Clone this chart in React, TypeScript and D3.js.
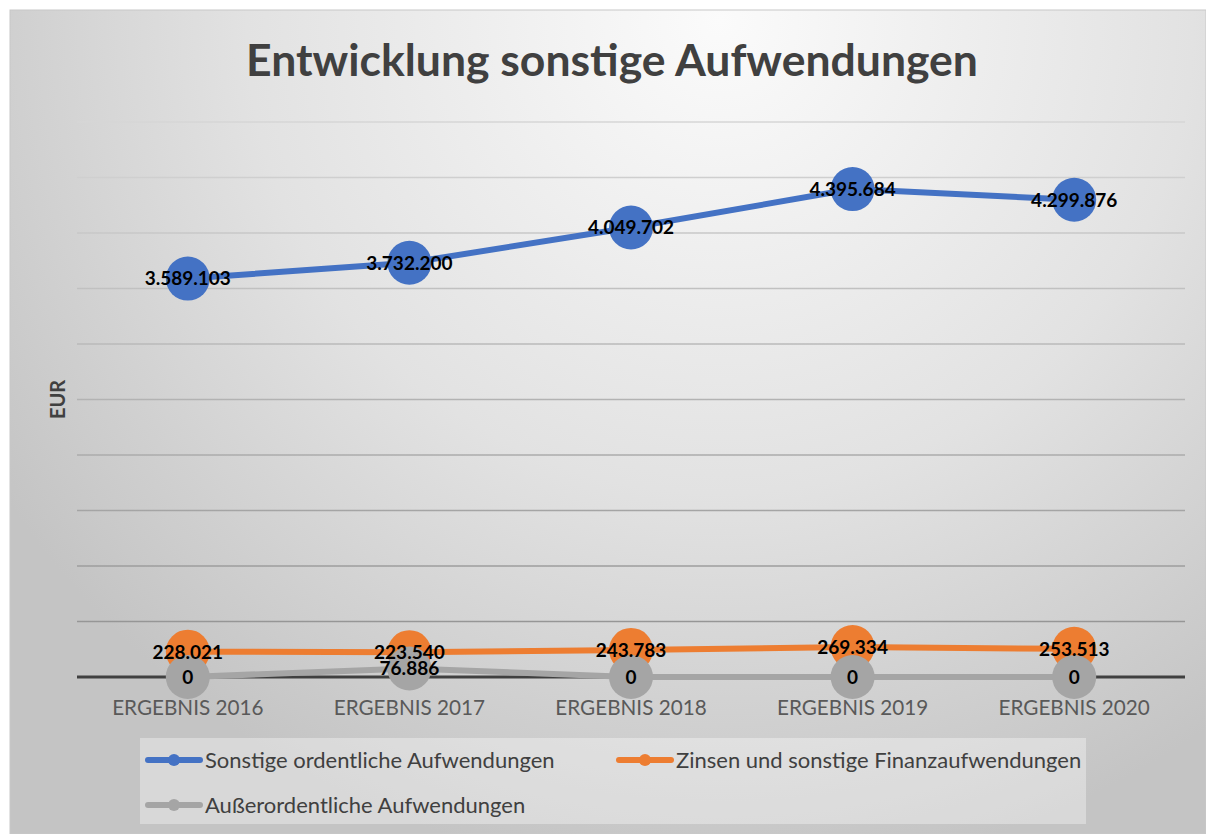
import { useEffect, useRef } from "react";
import * as d3 from "d3";

// Daten
const kategorien = ["ERGEBNIS 2016", "ERGEBNIS 2017", "ERGEBNIS 2018", "ERGEBNIS 2019", "ERGEBNIS 2020"];
const sonstigeOrdentliche = [3589103, 3732200, 4049702, 4395684, 4299876];
const zinsenFinanz = [228021, 223540, 243783, 269334, 253513];
const ausserordentliche = [0, 76886, 0, 0, 0];
const serienNamen = [
  "Sonstige ordentliche Aufwendungen",
  "Zinsen und sonstige Finanzaufwendungen",
  "Außerordentliche Aufwendungen",
];
const serienFarben = ["#4472C4", "#ED7D31", "#A5A5A5"];
const yMax = 5000000;

const W = 1206;
const H = 834;
const FONT = "Lato, 'Open Sans', sans-serif";

const App = () => {
  const svgRef = useRef<SVGSVGElement | null>(null);

  useEffect(() => {
    if (!svgRef.current) return;
    const svg = d3.select(svgRef.current);
    svg.selectAll("*").remove();

    const de = d3.formatLocale({ decimal: ",", thousands: ".", grouping: [3], currency: ["", " €"] });
    const fmt = de.format(",d");

    const defs = svg.append("defs");
    const bg = defs
      .append("radialGradient")
      .attr("id", "bg")
      .attr("gradientUnits", "userSpaceOnUse")
      .attr("cx", 720)
      .attr("cy", 20)
      .attr("r", 860);
    bg.append("stop").attr("offset", 0).attr("stop-color", "#fbfbfb");
    bg.append("stop").attr("offset", 0.55).attr("stop-color", "#e2e2e2");
    bg.append("stop").attr("offset", 1).attr("stop-color", "#c4c4c4");

    const gridGrad = defs
      .append("linearGradient")
      .attr("id", "grid")
      .attr("gradientUnits", "userSpaceOnUse")
      .attr("x1", 0)
      .attr("x2", 0)
      .attr("y1", 122)
      .attr("y2", 677);
    gridGrad.append("stop").attr("offset", 0).attr("stop-color", "#d6d6d6");
    gridGrad.append("stop").attr("offset", 1).attr("stop-color", "#8f8f8f");

    // Hintergrund
    svg.append("rect").attr("width", W).attr("height", H).attr("fill", "#fff");
    svg
      .append("rect")
      .attr("x", 10)
      .attr("y", 10)
      .attr("width", W - 10)
      .attr("height", H - 10)
      .attr("fill", "url(#bg)")
      .attr("stroke", "#c8c8c8")
      .attr("stroke-width", 1);

    const x = d3.scalePoint<string>().domain(kategorien).range([77, 1185]).padding(0.5);
    const y = d3.scaleLinear().domain([0, yMax]).range([677, 122]);

    // Gitterlinien
    svg
      .append("g")
      .selectAll("line")
      .data(y.ticks(10).filter((t) => t > 0))
      .enter()
      .append("line")
      .attr("x1", 77)
      .attr("x2", 1185)
      .attr("y1", (d) => y(d))
      .attr("y2", (d) => y(d))
      .attr("stroke", "url(#grid)")
      .attr("stroke-width", 1.5);

    // Nulllinie
    svg
      .append("line")
      .attr("x1", 77)
      .attr("x2", 1185)
      .attr("y1", y(0))
      .attr("y2", y(0))
      .attr("stroke", "#404040")
      .attr("stroke-width", 3);

    // Titel
    svg
      .append("text")
      .attr("x", 612)
      .attr("y", 76)
      .attr("text-anchor", "middle")
      .style("font-family", FONT)
      .style("font-size", "44.5px")
      .style("font-weight", "700")
      .style("fill", "#404040")
      .text("Entwicklung sonstige Aufwendungen");

    // Achsentitel
    svg
      .append("text")
      .attr("transform", `translate(65, ${(y(0) + y(yMax)) / 2}) rotate(-90)`)
      .attr("text-anchor", "middle")
      .style("font-family", FONT)
      .style("font-size", "20px")
      .style("font-weight", "700")
      .style("fill", "#404040")
      .text("EUR");

    // Kategorien
    svg
      .append("g")
      .selectAll("text")
      .data(kategorien)
      .enter()
      .append("text")
      .attr("x", (d) => x(d) as number)
      .attr("y", 715)
      .attr("text-anchor", "middle")
      .style("font-family", FONT)
      .style("font-size", "20.7px")
      .style("fill", "#595959")
      .text((d) => d);

    const serien = [sonstigeOrdentliche, zinsenFinanz, ausserordentliche];
    const linie = d3
      .line<number>()
      .x((_, i) => x(kategorien[i]) as number)
      .y((d) => y(d));

    serien.forEach((werte, s) => {
      const g = svg.append("g");
      g.append("path")
        .datum(werte)
        .attr("d", linie)
        .attr("fill", "none")
        .attr("stroke", serienFarben[s])
        .attr("stroke-width", 6)
        .attr("stroke-linejoin", "round")
        .attr("stroke-linecap", "round");
      g.selectAll("circle")
        .data(werte)
        .enter()
        .append("circle")
        .attr("cx", (_, i) => x(kategorien[i]) as number)
        .attr("cy", (d) => y(d))
        .attr("r", 22)
        .attr("fill", serienFarben[s]);
    });

    // Datenbeschriftungen
    serien.forEach((werte) => {
      svg
        .append("g")
        .selectAll("text")
        .data(werte)
        .enter()
        .append("text")
        .attr("x", (_, i) => x(kategorien[i]) as number)
        .attr("y", (d) => y(d))
        .attr("dy", "0.36em")
        .attr("text-anchor", "middle")
        .style("font-family", FONT)
        .style("font-size", "19px")
        .style("font-weight", "700")
        .style("fill", "#000")
        .text((d) => fmt(d));
    });

    // Legende
    const legende = svg.append("g");
    legende
      .append("rect")
      .attr("x", 140)
      .attr("y", 738)
      .attr("width", 946)
      .attr("height", 86)
      .attr("fill", "#ffffff")
      .attr("opacity", 0.35);

    const positionen = [
      [146, 760],
      [617, 760],
      [146, 805],
    ];
    serienNamen.forEach((name, i) => {
      const [lx, ly] = positionen[i];
      const item = legende.append("g").attr("transform", `translate(${lx}, ${ly})`);
      item
        .append("line")
        .attr("x1", 2)
        .attr("x2", 54)
        .attr("y1", 0)
        .attr("y2", 0)
        .attr("stroke", serienFarben[i])
        .attr("stroke-width", 6)
        .attr("stroke-linecap", "round");
      item.append("circle").attr("cx", 28).attr("cy", 0).attr("r", 6).attr("fill", serienFarben[i]);
      item
        .append("text")
        .attr("x", 59)
        .attr("y", 0)
        .attr("dy", "0.35em")
        .style("font-family", FONT)
        .style("font-size", "22px")
        .style("fill", "#404040")
        .text(name);
    });
  }, []);

  return (
    <div style={{ position: "absolute", left: 0, top: 0 }}>
      <svg ref={svgRef} width={W} height={H} style={{ display: "block" }} />
    </div>
  );
};

export default App;
